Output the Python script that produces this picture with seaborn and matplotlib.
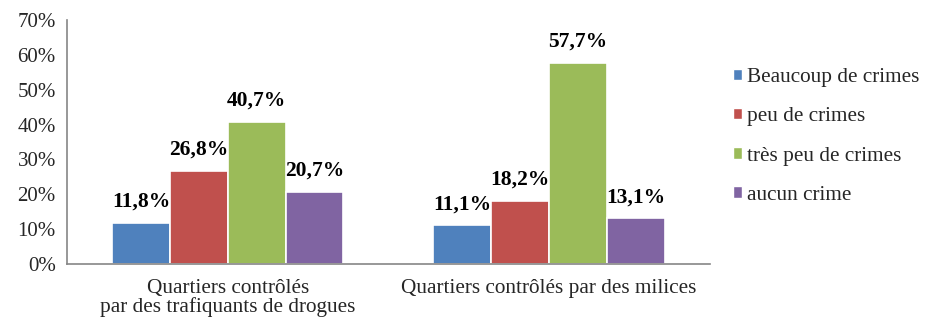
import matplotlib
matplotlib.use("Agg")
import matplotlib.pyplot as plt
import seaborn as sns
import pandas as pd
from matplotlib.patches import Patch
from matplotlib.ticker import FixedLocator, PercentFormatter

# Neighbourhood types and crime-level shares (%)
categories = ["Quartiers contrôlés\npar des trafiquants de drogues",
              "Quartiers contrôlés par des milices"]
series = ["Beaucoup de crimes", "peu de crimes", "très peu de crimes", "aucun crime"]
beaucoup = [11.8, 11.1]
peu = [26.8, 18.2]
tres_peu = [40.7, 57.7]
aucun = [20.7, 13.1]
colors = ["#4F81BD", "#C0504D", "#9BBB59", "#8064A2"]
y_ticks = [0, 10, 20, 30, 40, 50, 60, 70]

values = [beaucoup, peu, tres_peu, aucun]
rows = []
for name, vals in zip(series, values):
    for cat, v in zip(categories, vals):
        rows.append({"cat": cat, "serie": name, "val": v})
df = pd.DataFrame(rows)

sns.set_style("white")
plt.rcParams["font.family"] = ["Liberation Serif", "DejaVu Serif"]

fig = plt.figure(figsize=(9.25, 3.21), dpi=100)
ax = fig.add_axes([0.0724, 0.1776, 0.695, 0.76])

sns.barplot(data=df, x="cat", y="val", hue="serie", order=categories,
            hue_order=series, palette=colors, saturation=1, width=0.72, ax=ax,
            edgecolor="white", linewidth=1.2, legend=False, errorbar=None)

for cont in ax.containers:
    labels = [f"{v:.1f}%".replace(".", ",") for v in cont.datavalues]
    ax.bar_label(cont, labels=labels, padding=8, fontsize=15.5,
                 fontweight="bold", color="black")

ax.set_ylim(0, 70)
ax.set_xlim(-0.5, 1.5)
ax.yaxis.set_major_locator(FixedLocator(y_ticks))
ax.yaxis.set_major_formatter(PercentFormatter(decimals=0))
ax.tick_params(axis="y", which="major", direction="out", length=5,
               color="#868686", width=1.2, labelsize=15, pad=3)

# Group separators as major ticks, category names on minor ticks
ax.set_xticks([-0.5, 0.5, 1.5])
ax.set_xticklabels(["", "", ""])
ax.set_xticks([0, 1], minor=True)
ax.set_xticklabels(categories, minor=True, fontsize=15.3, linespacing=0.95)
ax.tick_params(axis="x", which="major", direction="out", length=6,
               color="#868686", width=1.2)
ax.tick_params(axis="x", which="minor", length=0, pad=11)
ax.set_xlabel("")
ax.set_ylabel("")

for side in ["top", "right"]:
    ax.spines[side].set_visible(False)
for side in ["left", "bottom"]:
    ax.spines[side].set_color("#868686")
    ax.spines[side].set_linewidth(1.2)

handles = [Patch(facecolor=c, edgecolor="white", label=s) for c, s in zip(colors, series)]
fig.legend(handles=handles, loc="center left", bbox_to_anchor=(0.783, 0.575),
           frameon=False, fontsize=15.3, handlelength=0.45, handleheight=0.45,
           handletextpad=0.2, labelspacing=0.95, borderaxespad=0)

fig.savefig("out.png", dpi=100)
